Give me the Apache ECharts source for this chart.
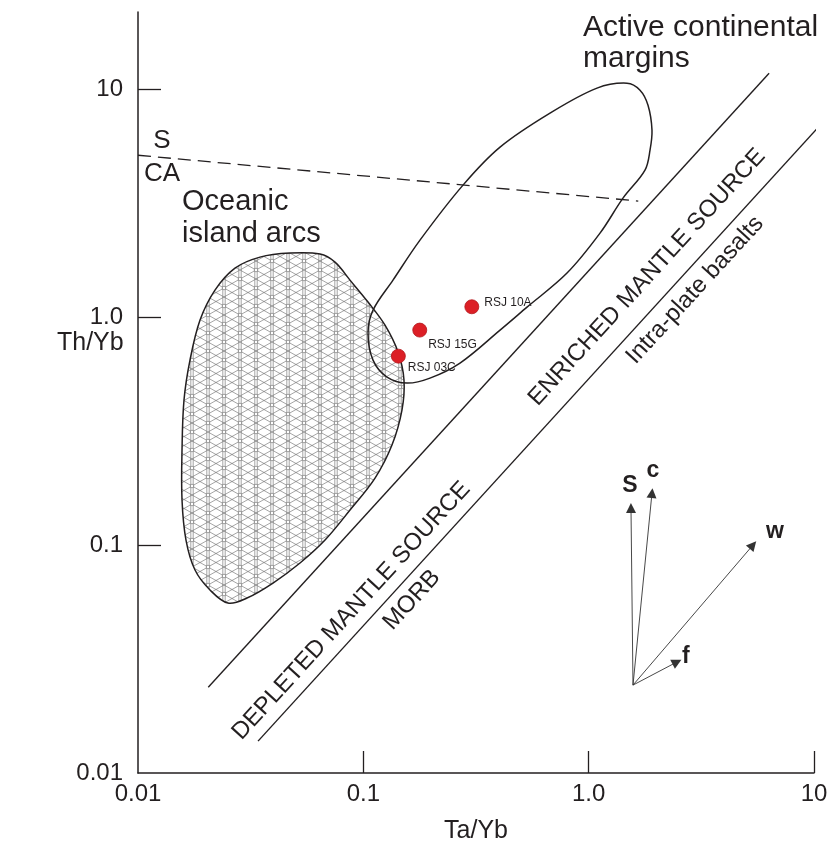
<!DOCTYPE html>
<html>
<head>
<meta charset="utf-8">
<script src="https://cdn.jsdelivr.net/npm/echarts@6/dist/echarts.min.js"></script>
<style>
html,body{margin:0;padding:0;background:#fff;}
#chart{width:829px;height:844px;}
</style>
</head>
<body>
<div id="chart"></div>
<script>
// ---------- data ----------
const xTicks = [0.01, 0.1, 1, 10];
const xTickLabels = ['0.01', '0.1', '1.0', '10'];
const yTicks = [0.01, 0.1, 1, 10];
const yTickLabels = ['0.01', '0.1', '1.0', '10'];

const sampleNames = ['RSJ 10A', 'RSJ 15G', 'RSJ 03C'];
const sampleTaYb = [0.303, 0.178, 0.143];
const sampleThYb = [1.11, 0.877, 0.674];

// mantle array boundaries
const enrichedLineTaYb = [0.0205, 6.32];
const enrichedLineThYb = [0.0238, 11.75];
const morbLineTaYb = [0.0341, 10.75];
const morbLineThYb = [0.0138, 7.02];
// S / CA divide
const scaLineTaYb = [0.01, 1.66];
const scaLineThYb = [5.13, 3.23];

// Active continental margins field outline
const acmTaYb = [0.1049, 0.1104, 0.1354, 0.1784, 0.2769, 0.4043, 0.6737, 1.089, 1.480, 1.690, 1.834, 1.910, 1.872, 1.778, 1.420, 1.123, 0.8015, 0.5326, 0.4043, 0.2685, 0.1976, 0.1563, 0.1274, 0.1104];
const acmThYb = [0.851, 1.073, 1.453, 2.176, 3.793, 5.567, 7.846, 10.10, 10.62, 9.90, 8.506, 6.610, 5.401, 4.413, 3.325, 2.335, 1.560, 1.106, 0.877, 0.6286, 0.540, 0.5135, 0.5455, 0.6477];

// Oceanic island arcs field outline
const oiaTaYb = [0.02507, 0.02087, 0.01791, 0.01633, 0.01568, 0.01568, 0.01600, 0.01701, 0.01885, 0.02196, 0.02694, 0.03478, 0.04727, 0.06424, 0.07486, 0.08726, 0.1049, 0.1248, 0.1426, 0.1515, 0.1484, 0.1340, 0.1127, 0.08726, 0.06761, 0.05236, 0.03973, 0.03046];
const oiaThYb = [0.05565, 0.06349, 0.07770, 0.1052, 0.1576, 0.2610, 0.4325, 0.6477, 0.970, 1.313, 1.640, 1.833, 1.909, 1.890, 1.742, 1.453, 1.164, 0.922, 0.7023, 0.5294, 0.3910, 0.2746, 0.1967, 0.1424, 0.1052, 0.08341, 0.06812, 0.05855];

// process vectors
const vectorNames = ['S', 'c', 'w', 'f'];
const vectorOriginTaYb = 1.573;
const vectorOriginThYb = 0.0243;
const vectorTipTaYb = [1.541, 1.910, 5.36, 2.466];
const vectorTipThYb = [0.1453, 0.169, 0.1, 0.0307];
const vectorLabelTaYb = [1.526, 1.930, 6.71, 2.70];
const vectorLabelThYb = [0.183, 0.213, 0.114, 0.0323];

// field annotations
const annoTexts = ['Active continental\nmargins', 'Oceanic\nisland arcs', 'S', 'CA',
  'ENRICHED MANTLE SOURCE', 'Intra-plate basalts', 'DEPLETED MANTLE SOURCE', 'MORB'];
const annoTaYb = [0.944, 0.01568, 0.01278, 0.01278, 1.815, 2.965, 0.0885, 0.1644];
const annoThYb = [15.9, 2.718, 5.92, 4.24, 1.497, 1.313, 0.0515, 0.0574];

// ---------- styles ----------
const INK = '#231f20';
const annoStyle = [
  {align: 'left', rotate: 0, fontSize: 30, lineHeight: 31},
  {align: 'left', rotate: 0, fontSize: 29, lineHeight: 32},
  {align: 'center', rotate: 0, fontSize: 26},
  {align: 'center', rotate: 0, fontSize: 26},
  {align: 'center', rotate: 47.6, fontSize: 24},
  {align: 'center', rotate: 47.6, fontSize: 24},
  {align: 'center', rotate: 47.6, fontSize: 24},
  {align: 'center', rotate: 47.6, fontSize: 24}
];

// hatch pattern tile (triangular lattice with node circles)
function makeHatch() {
  const c = document.createElement('canvas');
  const w = 32, h = 18;
  c.width = w; c.height = h;
  const g = c.getContext('2d');
  g.fillStyle = '#fff';
  g.fillRect(0, 0, w, h);
  g.strokeStyle = '#5a5a5a';
  g.lineWidth = 0.55;
  const seg = (x1, y1, x2, y2) => { g.beginPath(); g.moveTo(x1, y1); g.lineTo(x2, y2); g.stroke(); };
  [1.2, w - 1.2, 16 - 1.2, 16 + 1.2].forEach(x => seg(x, 0, x, h));
  seg(0, 0, 32, 18); seg(0, 18, 32, 0);
  seg(0, 9, 16, 18); seg(16, 0, 32, 9);
  seg(0, 9, 16, 0); seg(16, 18, 32, 9);
  g.fillStyle = '#fff';
  [[0, 0], [32, 0], [0, 18], [32, 18], [16, 9]].forEach(p => {
    g.beginPath(); g.arc(p[0], p[1], 1.8, 0, Math.PI * 2); g.fill(); g.stroke();
  });
  return c;
}
const hatchCanvas = makeHatch();

const chart = echarts.init(document.getElementById('chart'), null, {renderer: 'canvas'});

const tickFont = 'Liberation Sans, Arial, sans-serif';
const mainFont = 'Liberation Sans, Arial, sans-serif';

function fieldSeries(name, xs, ys, fill) {
  return {
    type: 'custom',
    name: name,
    silent: true,
    data: [[xs[0], ys[0]]],
    clip: false,
    z: fill ? 2 : 4,
    renderItem: function (params, api) {
      const pts = xs.map((x, i) => api.coord([x, ys[i]]));
      return {
        type: 'polygon',
        shape: {points: pts, smooth: 0.35},
        style: {fill: fill || 'none', stroke: INK, lineWidth: 1.5}
      };
    }
  };
}

function lineSeries(xs, ys, style) {
  return {
    type: 'line',
    data: xs.map((x, i) => [x, ys[i]]),
    showSymbol: false,
    symbol: 'none',
    clip: false,
    silent: true,
    z: 3,
    lineStyle: Object.assign({color: INK, width: 1.4}, style || {})
  };
}

const option = {
  backgroundColor: '#fff',
  animation: false,
  grid: {left: 138, top: 12, width: 676, height: 761, outerBoundsMode: 'none', containLabel: false},
  xAxis: {
    type: 'log', logBase: 10, min: 0.01, max: 10,
    name: 'Ta/Yb', nameLocation: 'middle', nameGap: 46,
    nameTextStyle: {fontFamily: tickFont, fontSize: 25, color: INK},
    axisLine: {show: true, onZero: false, lineStyle: {color: INK, width: 1.5}},
    axisTick: {show: true, inside: true, length: 22, customValues: xTicks.slice(1), lineStyle: {color: INK, width: 1.3}},
    axisLabel: {
      show: true, margin: 9, customValues: xTicks,
      fontFamily: tickFont, fontSize: 24, color: INK,
      formatter: v => { const i = xTicks.findIndex(t => Math.abs(Math.log10(t) - Math.log10(v)) < 1e-6); return i >= 0 ? xTickLabels[i] : ''; }
    },
    splitLine: {show: false}, minorTick: {show: false}
  },
  yAxis: {
    type: 'log', logBase: 10, min: 0.01, max: 21.8,
    axisLine: {show: true, onZero: false, lineStyle: {color: INK, width: 1.5}},
    axisTick: {show: true, inside: true, length: 23, customValues: yTicks.slice(1), lineStyle: {color: INK, width: 1.3}},
    axisLabel: {
      show: true, margin: 15, customValues: yTicks,
      fontFamily: tickFont, fontSize: 24, color: INK,
      formatter: v => { const i = yTicks.findIndex(t => Math.abs(Math.log10(t) - Math.log10(v)) < 1e-6); return i >= 0 ? yTickLabels[i] : ''; }
    },
    splitLine: {show: false}, minorTick: {show: false}
  },
  graphic: [
    {type: 'text', left: 57, top: 331, style: {text: 'Th/Yb', fontFamily: tickFont, fontSize: 25, fill: INK}}
  ],
  series: [
    fieldSeries('Oceanic island arcs', oiaTaYb, oiaThYb, {image: hatchCanvas, repeat: 'repeat'}),
    fieldSeries('Active continental margins', acmTaYb, acmThYb, null),
    lineSeries(enrichedLineTaYb, enrichedLineThYb),
    lineSeries(morbLineTaYb, morbLineThYb),
    lineSeries(scaLineTaYb, scaLineThYb, {type: [13, 7], width: 1.3}),
    {
      type: 'lines',
      coordinateSystem: 'cartesian2d',
      silent: true,
      z: 3,
      symbol: ['none', 'triangle'],
      symbolSize: [0, 10],
      lineStyle: {color: '#333', width: 0.9, opacity: 1},
      itemStyle: {color: '#111'},
      data: vectorNames.map((n, i) => ({name: n, coords: [[vectorOriginTaYb, vectorOriginThYb], [vectorTipTaYb[i], vectorTipThYb[i]]]}))
    },
    {
      type: 'scatter',
      silent: true,
      clip: false,
      z: 5,
      symbolSize: 0,
      itemStyle: {opacity: 1},
      data: vectorNames.map((n, i) => ({name: n, value: [vectorLabelTaYb[i], vectorLabelThYb[i]]})),
      label: {show: true, position: 'inside', formatter: '{b}', fontFamily: mainFont, fontSize: 23, fontWeight: 'bold', color: INK}
    },
    {
      type: 'scatter',
      silent: true,
      clip: false,
      z: 5,
      symbolSize: 0,
      itemStyle: {opacity: 1},
      data: annoTexts.map((t, i) => ({
        name: t, value: [annoTaYb[i], annoThYb[i]],
        label: Object.assign({show: true, position: 'inside', verticalAlign: 'middle', formatter: '{b}', fontFamily: mainFont, color: INK}, annoStyle[i])
      }))
    },
    {
      type: 'scatter',
      name: 'Samples',
      z: 6,
      symbol: 'circle',
      symbolSize: 14,
      itemStyle: {color: '#dc1f26', borderColor: '#b3161c', borderWidth: 0.8, opacity: 1},
      data: sampleNames.map((n, i) => ({name: n, value: [sampleTaYb[i], sampleThYb[i]]})),
      label: {
        show: true, formatter: '{b}', position: 'right', distance: 5,
        fontFamily: tickFont, fontSize: 12, color: INK
      },
      labelLayout: function (p) {
        const offs = {'RSJ 10A': [0, -4], 'RSJ 15G': [-4, 15], 'RSJ 03C': [-3, 12]};
        const n = sampleNames[p.dataIndex];
        const o = offs[n] || [0, 0];
        return {x: p.labelRect.x + o[0], y: p.labelRect.y + o[1]};
      }
    }
  ]
};
chart.setOption(option);
</script>
</body>
</html>
